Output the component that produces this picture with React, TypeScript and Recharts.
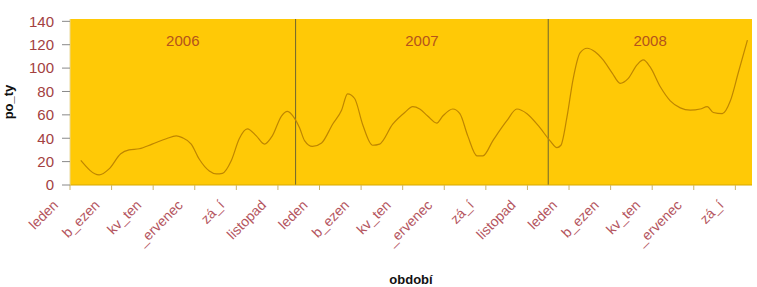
import { LineChart, Line, XAxis, YAxis, CartesianGrid, ReferenceLine, ReferenceArea } from 'recharts';

// month position (0 = leden 2006) and value
const monthPos = [
  0.52, 1.4, 1.88, 2.44, 2.84, 3.33, 3.95, 4.63, 5.11, 5.4, 5.83, 6.22, 6.7, 7.04, 7.33, 7.76,
  8.14, 8.53, 8.96, 9.35, 9.73, 10.17, 10.46, 10.8, 11.04, 11.28, 11.66, 12.1, 12.63, 13.06,
  13.35, 13.69, 14.07, 14.55, 14.89, 15.52, 16.1, 16.48, 16.82, 17.2, 17.64, 17.93, 18.41,
  18.75, 19.13, 19.57, 19.86, 20.34, 21.01, 21.49, 21.98, 22.6, 23.08, 23.42, 23.61, 23.9,
  24.19, 24.53, 24.87, 25.25, 25.64, 26.07, 26.46, 26.84, 27.28, 27.57, 27.9, 28.39, 28.87,
  29.35, 29.83, 30.31, 30.65, 30.94, 31.37, 31.76, 32.14, 32.58,
];
const poTy = [
  21, 8.6, 13.8, 26.7, 30, 31, 35, 39.6, 42, 40.5, 35, 22, 12, 9.5, 10, 21,
  39.6, 48, 42, 35, 42, 59, 63, 57, 49, 38, 33, 36, 52, 64,
  78, 74, 52, 34, 35, 52, 62, 67, 65, 59, 53, 59, 65,
  61, 42, 25, 25, 38, 55, 65, 61, 49, 38, 32, 34, 58,
  90, 113, 117, 114, 107, 96, 87, 91, 103, 107, 101, 84, 72,
  66, 64, 65, 67, 62, 61, 72, 96, 124,
];

const years = ['2006', '2007', '2008'];
const yearBounds = [0, 10.85, 23, 32.8];
const tickLabels = ['leden', 'b_ezen', 'kv_ten', '_ervenec', 'zá_í', 'listopad'];
const labelTicks = Array.from({ length: 17 }, (_, i) => i * 2);
const minorTicks = Array.from({ length: 16 }, (_, i) => i * 2 + 1);
const yTicks = [0, 20, 40, 60, 80, 100, 120, 140];

const data = monthPos.map((t, i) => ({ t, v: poTy[i] }));

const YLabel = (props: any) => {
  const { viewBox } = props;
  const cx = 13;
  const cy = viewBox.y + viewBox.height / 2;
  return (
    <text x={cx} y={cy} transform={`rotate(-90 ${cx} ${cy})`} textAnchor="middle" fontWeight="bold" fontSize={13} fill="#111">
      po_ty
    </text>
  );
};

export default function App() {
  return (
    <div style={{ position: 'absolute', left: 0, top: 0, fontFamily: '"Liberation Sans", Arial, sans-serif', background: '#fff' }}>
      <LineChart width={757} height={287} data={data} margin={{ top: 19, right: 5, bottom: 0, left: 0 }}>
        <CartesianGrid fill="#ffc906" horizontal={false} vertical={false} />
        <XAxis
          xAxisId="minor"
          dataKey="t"
          type="number"
          domain={[0, 32.8]}
          ticks={minorTicks}
          interval={0}
          tick={false}
          tickSize={5}
          tickLine={{ stroke: '#c9b36a' }}
          axisLine={false}
          height={0}
        />
        <XAxis
          dataKey="t"
          type="number"
          domain={[0, 32.8]}
          ticks={labelTicks}
          interval={0}
          tickFormatter={(v: number) => tickLabels[(v % 12) / 2]}
          angle={-45}
          tick={{ fill: '#b4555e', fontSize: 14, textAnchor: 'end', dx: -18, dy: 5 }}
          tickSize={5}
          tickMargin={4}
          tickLine={{ stroke: '#c9b36a' }}
          axisLine={{ stroke: '#d6a800' }}
          height={102}
          label={{ value: 'období', position: 'insideBottom', offset: 3, fontWeight: 'bold', fontSize: 13, fill: '#111' }}
        />
        <YAxis
          domain={[0, 142]}
          ticks={yTicks}
          interval={0}
          width={70}
          tickSize={8}
          tickMargin={8}
          tick={{ fill: '#a3413f', fontSize: 15 }}
          tickLine={{ stroke: '#888' }}
          axisLine={{ stroke: '#e8d89a' }}
          label={<YLabel />}
        />
        {years.map((yr, i) => (
          <ReferenceArea
            key={yr}
            x1={yearBounds[i]}
            x2={yearBounds[i + 1]}
            fill="none"
            fillOpacity={0}
            stroke="none"
            ifOverflow="visible"
            label={{ value: yr, position: 'insideTop', offset: 16, fill: '#b4531c', fontSize: 15 }}
          />
        ))}
        {yearBounds.slice(1, 3).map((b) => (
          <ReferenceLine key={b} x={b} stroke="#6e6430" strokeWidth={1} />
        ))}
        <Line type="monotone" dataKey="v" stroke="#bf8600" strokeWidth={1.2} dot={false} isAnimationActive={false} />
      </LineChart>
    </div>
  );
}
